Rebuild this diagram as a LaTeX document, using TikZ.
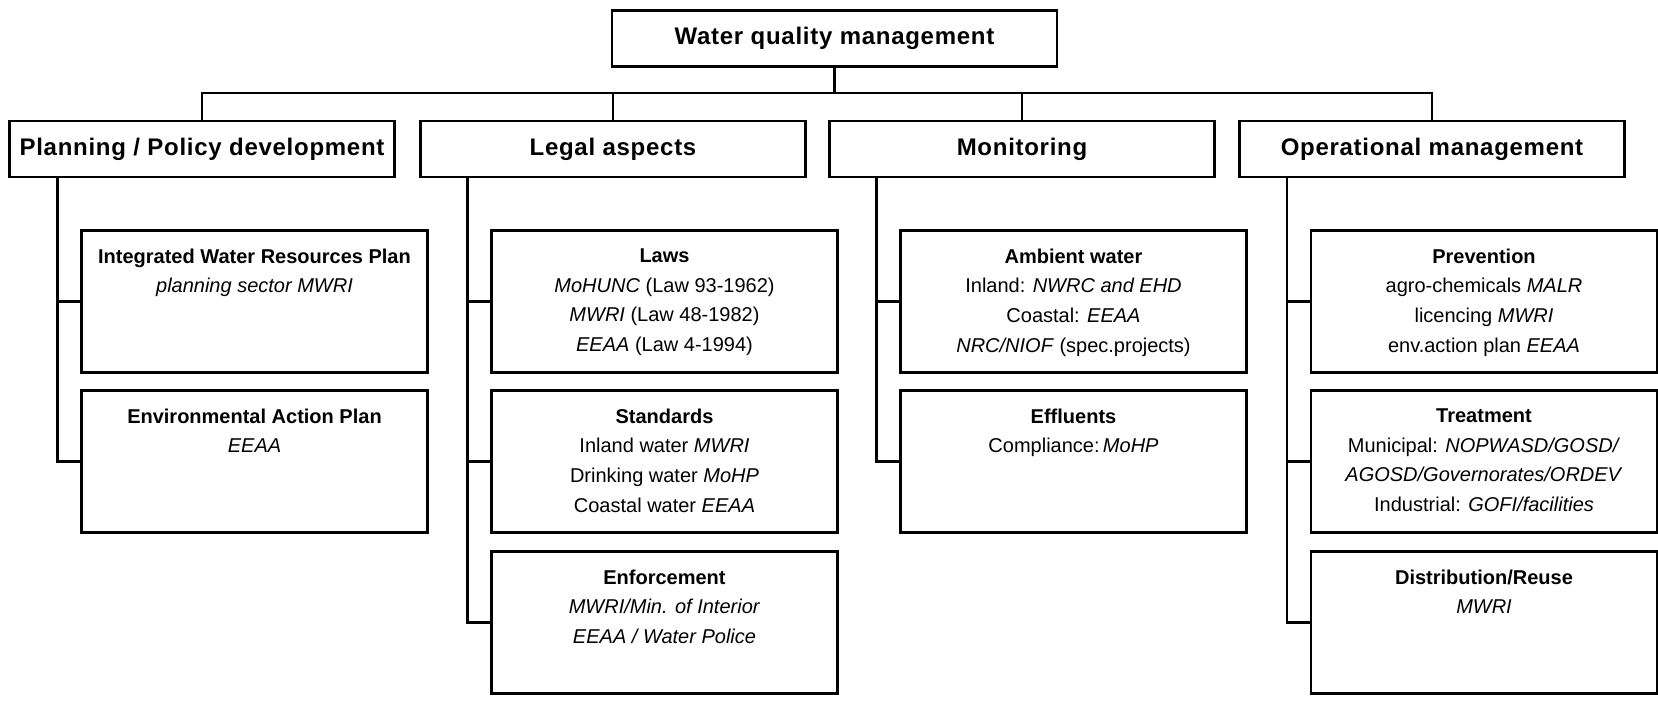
\documentclass[tikz,border=0pt]{standalone}
\usepackage{fontspec}
\setmainfont{Liberation Sans}
\tikzset{
  head/.style={draw, line width=1.1pt, minimum width=192.5pt, minimum height=28pt,
    font=\fontsize{12}{14}\selectfont\bfseries\addfontfeatures{LetterSpace=3}},
  sub/.style={draw, line width=1.1pt, minimum width=173pt, minimum height=71pt},
  txt/.style={anchor=north, align=center, inner sep=0pt, yshift=-9.5pt,
    font=\fontsize{10}{14.8}\selectfont},
  link/.style={line width=1.1pt},
}
\begin{document}
\begin{tikzpicture}[x=0.5pt,y=-0.5pt]
		\useasboundingbox (0,0) rectangle (1658,702);
		% top and second level
		\node[head, minimum width=222.5pt] (top) at (834.5,38.5) {Water quality management};
		\node[head] (plan) at (202,149) {Planning / Policy development};
		\node[head] (legal) at (613,149) {Legal aspects};
		\node[head] (monit) at (1022,149) {Monitoring};
		\node[head] (oper) at (1432,149) {Operational management};
		% planning
		\node[sub, label={[txt]north:{\textbf{Integrated Water Resources Plan}\\ \textit{planning sector MWRI}}}] (iwrp) at (254.5,301.5) {};
		\node[sub, label={[txt]north:{\textbf{Environmental Action Plan}\\ \textit{EEAA}}}] (eap) at (254.5,461.5) {};
		% legal
		\node[sub, label={[txt]north:{\textbf{Laws}\\ \textit{MoHUNC} (Law 93-1962)\\ \textit{MWRI} (Law 48-1982)\\ \textit{EEAA} (Law 4-1994)}}] (laws) at (664.5,301.5) {};
		\node[sub, label={[txt]north:{\textbf{Standards}\\ Inland water \textit{MWRI}\\ Drinking water \textit{MoHP}\\ Coastal water \textit{EEAA}}}] (stand) at (664.5,461.5) {};
		\node[sub, label={[txt]north:{\textbf{Enforcement}\\ \textit{MWRI/Min. of Interior}\\ \textit{EEAA / Water Police}}}] (enf) at (664.5,622.5) {};
		% monitoring
		\node[sub, label={[txt]north:{\textbf{Ambient water}\\ Inland: \textit{NWRC and EHD}\\ Coastal: \textit{EEAA}\\ \textit{NRC/NIOF} (spec.projects)}}] (amb) at (1073.5,301.5) {};
		\node[sub, label={[txt]north:{\textbf{Effluents}\\ Compliance:\,\textit{MoHP}}}] (effl) at (1073.5,461.5) {};
		% operational
		\node[sub, label={[txt]north:{\textbf{Prevention}\\ agro-chemicals \textit{MALR}\\ licencing \textit{MWRI}\\ env.action plan \textit{EEAA}}}] (prev) at (1484,301.5) {};
		\node[sub, label={[txt]north:{\textbf{Treatment}\\ Municipal: \textit{NOPWASD/GOSD/}\\ \textit{AGOSD/Governorates/ORDEV}\\ Industrial: \textit{GOFI/facilities}}}] (treat) at (1484,461.5) {};
		\node[sub, label={[txt]north:{\textbf{Distribution/Reuse}\\ \textit{MWRI}}}] (distr) at (1484,622.5) {};
		% connectors
		\coordinate (bus) at (834.5,92.7);
		\draw[link] (top.south) -- (bus);
		\draw[link] (plan.north) |- (bus) -| (oper.north);
		\foreach \h in {legal,monit} \draw[link] (\h.north) -- (\h.north |- bus);
		\foreach \h/\s/\l in {plan/iwrp/eap,legal/laws/enf,monit/amb/effl,oper/prev/distr} {
			\coordinate (sp) at ([xshift=-11.5pt]\s.west);
			\draw[link] (sp |- \h.south) |- (\l.west);
		}
		\foreach \s in {iwrp,laws,stand,amb,prev,treat} \draw[link] ([xshift=-11.5pt]\s.west) -- (\s.west);
		\end{tikzpicture}
\end{document}
